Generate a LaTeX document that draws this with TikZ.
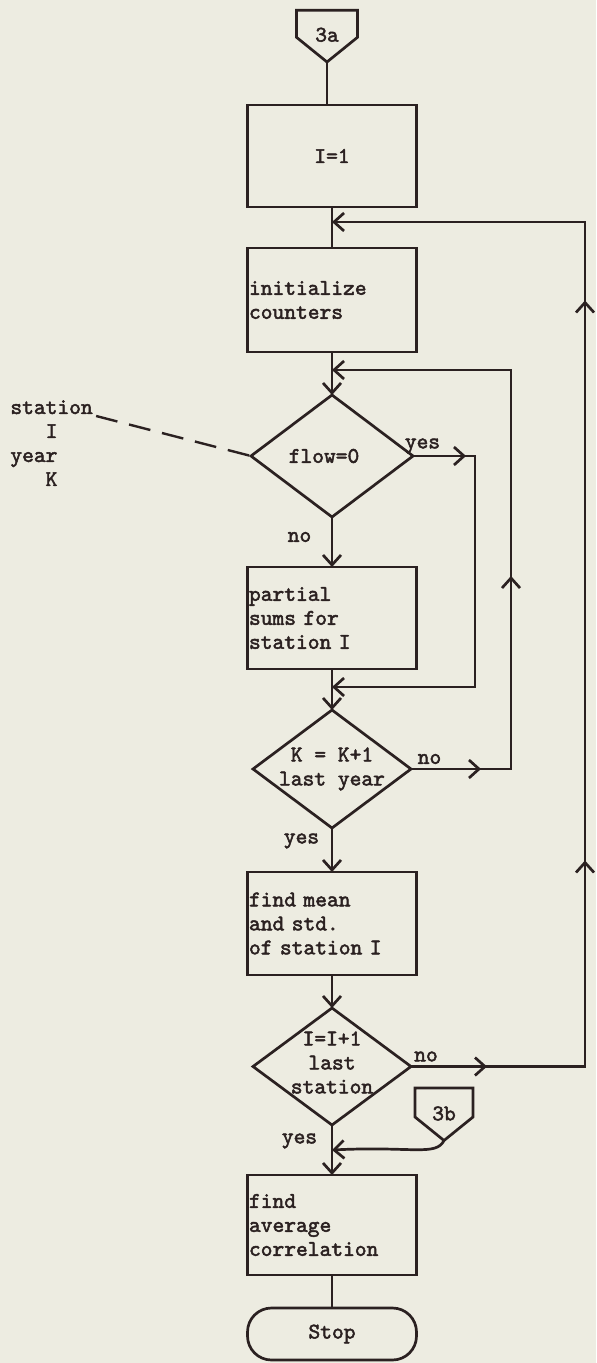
\documentclass[tikz,border=0pt]{standalone}
\usepackage{fontspec}
\usepackage{xcolor}
\usepackage{tikz}
\usetikzlibrary{
  arrows.meta,
  shapes.geometric,
  shapes.symbols,
  positioning,
  calc,
  decorations.markings
}
\newfontfamily\fcmono{lmmono10-regular.otf}[FakeBold=2.2]
\definecolor{fcPaper}{HTML}{EDECE1}
\definecolor{fcInk}{HTML}{2B2121}
\newcommand{\fcfont}{\fontsize{11.2}{12}\selectfont\fcmono}
\tikzset{
  fcnode/.style={draw=fcInk, line width=1.35pt, text=fcInk, font=\fcfont, inner sep=0pt, outer sep=0pt},
  procbox/.style={fcnode, rectangle, minimum width=84.5pt, minimum height=51pt,
    text width=83pt, inner xsep=0.75pt, align=left},
  decision/.style={fcnode, diamond, minimum width=79pt, minimum height=59pt},
  terminal/.style={fcnode, rectangle, rounded corners=12pt, minimum width=84.5pt, minimum height=26pt},
  offpage/.style={fcnode, signal, signal to=south, signal pointer angle=102,
    inner xsep=15.25pt, inner ysep=6.75pt},
  fctag/.style={font=\fcfont, text=fcInk, inner sep=0pt},
  fcline/.style={line width=1.35pt, draw=fcInk},
  flow/.style={fcline, -{Straight Barb[length=5pt, width=9pt]}},
  tipat/.style={postaction={decorate, decoration={markings,
    mark=at position #1 with {\arrow{Straight Barb[length=5pt, width=9pt]}}}}},
  noteline/.style={line width=1.2pt, draw=fcInk, dashed, dash pattern=on 11pt off 6pt}
}
\begin{document}
\begin{tikzpicture}
  \useasboundingbox[fill=fcPaper] (0,0) rectangle (298pt,-681.5pt);

  % main column
  \node[procbox, align=center] (start) at (166pt,-78pt) {I=1};
  \node[offpage, above=21.5pt of start, xshift=-2.5pt,
    label={[fctag, yshift=-5.5pt]center:3a}] (c3a) {};
  \node[procbox, minimum height=52pt, below=20.5pt of start] (init) {initialize\\counters};
  \node[decision, minimum width=81pt, minimum height=61pt, below=21.5pt of init] (dflow) {};
  \node[fctag] (dflowt) at ([xshift=-4pt]dflow.center) {flow=0};
  \node[procbox, below=25pt of dflow] (sums) {partial\\sums for\\station I};
  \node[decision, below=20.5pt of sums] (dyear) {};
  \node[fctag, align=center] (dyeart) at (dyear) {K = K+1\\last year};
  \node[procbox, minimum height=51.5pt, below=22pt of dyear] (stats) {find mean\\and std.\\of station I};
  \node[decision, minimum height=58.5pt, below=16.5pt of stats] (dstn) {};
  \node[fctag, align=center] (dstnt) at ([yshift=2pt]dstn.center) {I=I+1\\last\\station};
  \node[procbox, minimum height=50pt, below=25pt of dstn] (avg) {find\\average\\correlation};
  \node[terminal, below=16.5pt of avg] (stop) {Stop};

  \node[offpage, inner xsep=14.5pt, inner ysep=7.25pt,
    label={[fctag, yshift=-5.5pt]center:3b}] (c3b) at ([shift={(16.5pt,-18pt)}]dstn.east) {};

  % side note on the first test
  \node[fctag, align=left, anchor=north west] (note) at (5pt,-200pt)
    {station\\\phantom{sta}I\\year\\\phantom{sta}K};

  % branch labels
  \node[fctag] (yes1) at ([shift={(4.75pt,5pt)}]dflow.east) {yes};
  \node[fctag] (no1) at ([shift={(-16.25pt,-10pt)}]dflow.south) {no};
  \node[fctag] (no2) at ([shift={(9.25pt,5pt)}]dyear.east) {no};
  \node[fctag] (yes2) at ([shift={(-15.25pt,-6.5pt)}]dyear.south) {yes};
  \node[fctag] (no3) at ([shift={(7.5pt,5pt)}]dstn.east) {no};
  \node[fctag] (yes3) at ([shift={(-16.25pt,-8pt)}]dstn.south) {yes};

  % junctions and return columns
  \coordinate[below=7.5pt of start] (m1);
  \coordinate[below=9pt of init] (m2);
  \coordinate[below=9pt of sums] (m3);
  \coordinate[below=12.5pt of dstn] (j3b);
  \coordinate (yescol) at ($(dflow.east)+(31pt,0)$);
  \coordinate (yrcol) at ($(dyear.east)+(50pt,0)$);
  \coordinate (stcol) at ($(dstn.east)+(87pt,0)$);

  % straight run
  \draw[fcline] (c3a.south) -- (c3a.south |- start.north);
  \draw[fcline] (start) -- (init);
  \draw[flow] (init) -- (dflow);
  \draw[flow] (dflow) -- (sums);
  \draw[flow] (sums) -- (dyear);
  \draw[flow] (dyear) -- (stats);
  \draw[flow] (stats) -- (dstn);
  \draw[flow] (dstn) -- (avg);
  \draw[fcline] (avg) -- (stop);

  % loops back
  \draw[flow, tipat=26.5pt] (dflow.east) -- (yescol) |- (m3);
  \draw[flow, tipat=35pt, tipat=146.5pt] (dyear.east) -- (yrcol) |- (m2);
  \draw[flow, tipat=38pt, tipat=190pt, tipat=470pt] (dstn.east) -- (stcol) |- (m1);
  \draw[flow] (c3b.south) .. controls +(-4pt,-8pt) and +(40pt,2pt) .. (j3b);
  \draw[noteline] ([xshift=1.5pt,yshift=-8pt]note.north east) -- (dflow.west);
\end{tikzpicture}
\end{document}
